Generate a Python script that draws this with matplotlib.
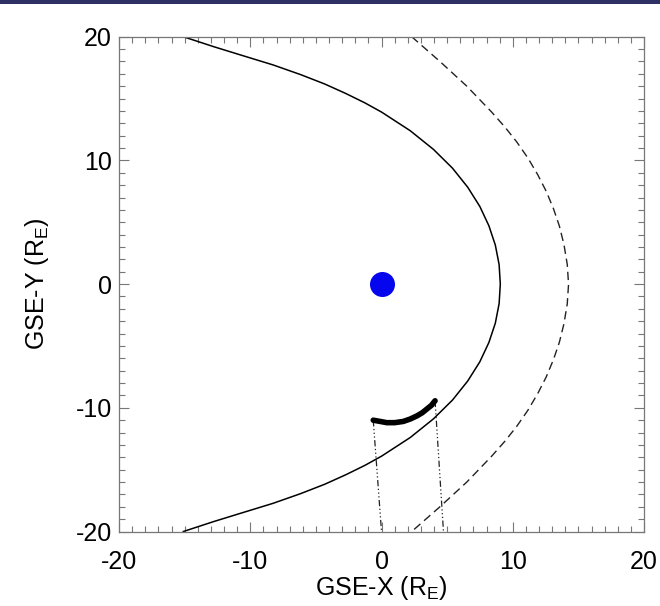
import numpy as np
import matplotlib
matplotlib.use('Agg')
from matplotlib import pyplot as plt
from matplotlib.patches import Rectangle
from matplotlib.ticker import MultipleLocator

plt.rcParams['font.family'] = ['Liberation Sans', 'DejaVu Sans']
plt.rcParams['mathtext.fontset'] = 'custom'
plt.rcParams['mathtext.rm'] = 'Liberation Sans'
plt.rcParams['mathtext.it'] = 'Liberation Sans:italic'
plt.rcParams['axes.unicode_minus'] = False

# Magnetopause (solid), GSE x/y in Earth radii
mp_x = [-15.1, -12.8, -10.69, -8.26, -6.17, -4.33, -2.72, -1.28, 0.0, 2.19, 3.96, 5.41, 6.57,
        7.49, 8.18, 8.67, 8.96, 9.05,
        8.96, 8.67, 8.18, 7.49, 6.57, 5.41, 3.96, 2.19, 0.0, -1.28, -2.72, -4.33, -6.17, -8.26,
        -10.69, -12.8, -15.1]
mp_y = [20.0, 19.2, 18.51, 17.72, 16.94, 16.18, 15.41, 14.66, 13.91, 12.40, 10.89, 9.37, 7.83,
        6.28, 4.72, 3.16, 1.58, 0.0,
        -1.58, -3.16, -4.72, -6.28, -7.83, -9.37, -10.89, -12.40, -13.91, -14.66, -15.41, -16.18,
        -16.94, -17.72, -18.51, -19.2, -20.0]

# Bow shock (dashed)
bs_x = [2.3, 4.45, 6.5, 8.4, 9.4, 10.3, 11.15, 11.9, 12.55, 13.1, 13.55, 13.9, 14.15, 14.25,
        14.15, 13.9, 13.55, 13.1, 12.55, 11.9, 11.15, 10.3, 9.4, 8.4, 6.5, 4.45, 2.3]
bs_y = [20.0, 18.0, 16.0, 13.9, 12.7, 11.5, 10.2, 8.85, 7.5, 6.1, 4.7, 3.2, 1.6, 0.0,
        -1.6, -3.2, -4.7, -6.1, -7.5, -8.85, -10.2, -11.5, -12.7, -13.9, -16.0, -18.0, -20.0]

# Spacecraft track
sc_x = [-0.63, -0.1, 0.4, 1.0, 1.66, 2.2, 2.7, 3.1, 3.45, 3.8, 4.08]
sc_y = [-11.0, -11.1, -11.2, -11.2, -11.1, -10.9, -10.65, -10.4, -10.1, -9.8, -9.43]

# Projections of the track ends down to the lower boundary
proj_x = [[-0.63, 0.0], [4.08, 4.72]]
proj_y = [[-11.0, -20.0], [-9.43, -20.0]]

earth = (0.0, 0.0)

fig = plt.figure(figsize=(6.6, 6.06), dpi=100)
ax = fig.add_axes([0.1803, 0.1229, 0.7955, 0.8165])

# dark banner strip along the top edge
fig.patches.append(Rectangle((0, 1 - 4 / 606), 1, 4 / 606, transform=fig.transFigure,
                             facecolor='#2e2f62', edgecolor='none'))

ax.plot(mp_x, mp_y, color='black', linewidth=1.1)
ax.plot(bs_x, bs_y, color='#222222', linewidth=1.0, dashes=(6, 3.5))
for px, py in zip(proj_x, proj_y):
    ax.plot(px, py, color='#222222', linewidth=0.9, dashes=(5, 2, 1, 2, 1, 2, 1, 2))
ax.plot(sc_x, sc_y, color='black', linewidth=4.0, solid_capstyle='round')
ax.plot(earth[0], earth[1], 'o', color='#0505ee', markersize=18, markeredgewidth=0)

ax.set_xlim(-20, 20)
ax.set_ylim(-20, 20)
ax.xaxis.set_major_locator(MultipleLocator(10))
ax.yaxis.set_major_locator(MultipleLocator(10))
ax.xaxis.set_minor_locator(MultipleLocator(1))
ax.yaxis.set_minor_locator(MultipleLocator(1))
ax.tick_params(which='both', direction='in', top=True, right=True, color='#777777', width=0.8)
ax.tick_params(which='major', length=7.2, labelsize=18)
ax.tick_params(which='minor', length=4.3)
ax.tick_params(axis='x', which='major', pad=13)
ax.tick_params(axis='y', which='major', pad=5)
for s in ax.spines.values():
    s.set_color('#777777')
    s.set_linewidth(0.9)

ax.set_xlabel('GSE-X (R$_\\mathregular{E}$)', fontsize=18, labelpad=0)
ax.set_ylabel('GSE-Y (R$_\\mathregular{E}$)', fontsize=18, labelpad=18)

fig.savefig('out.png', dpi=100)
